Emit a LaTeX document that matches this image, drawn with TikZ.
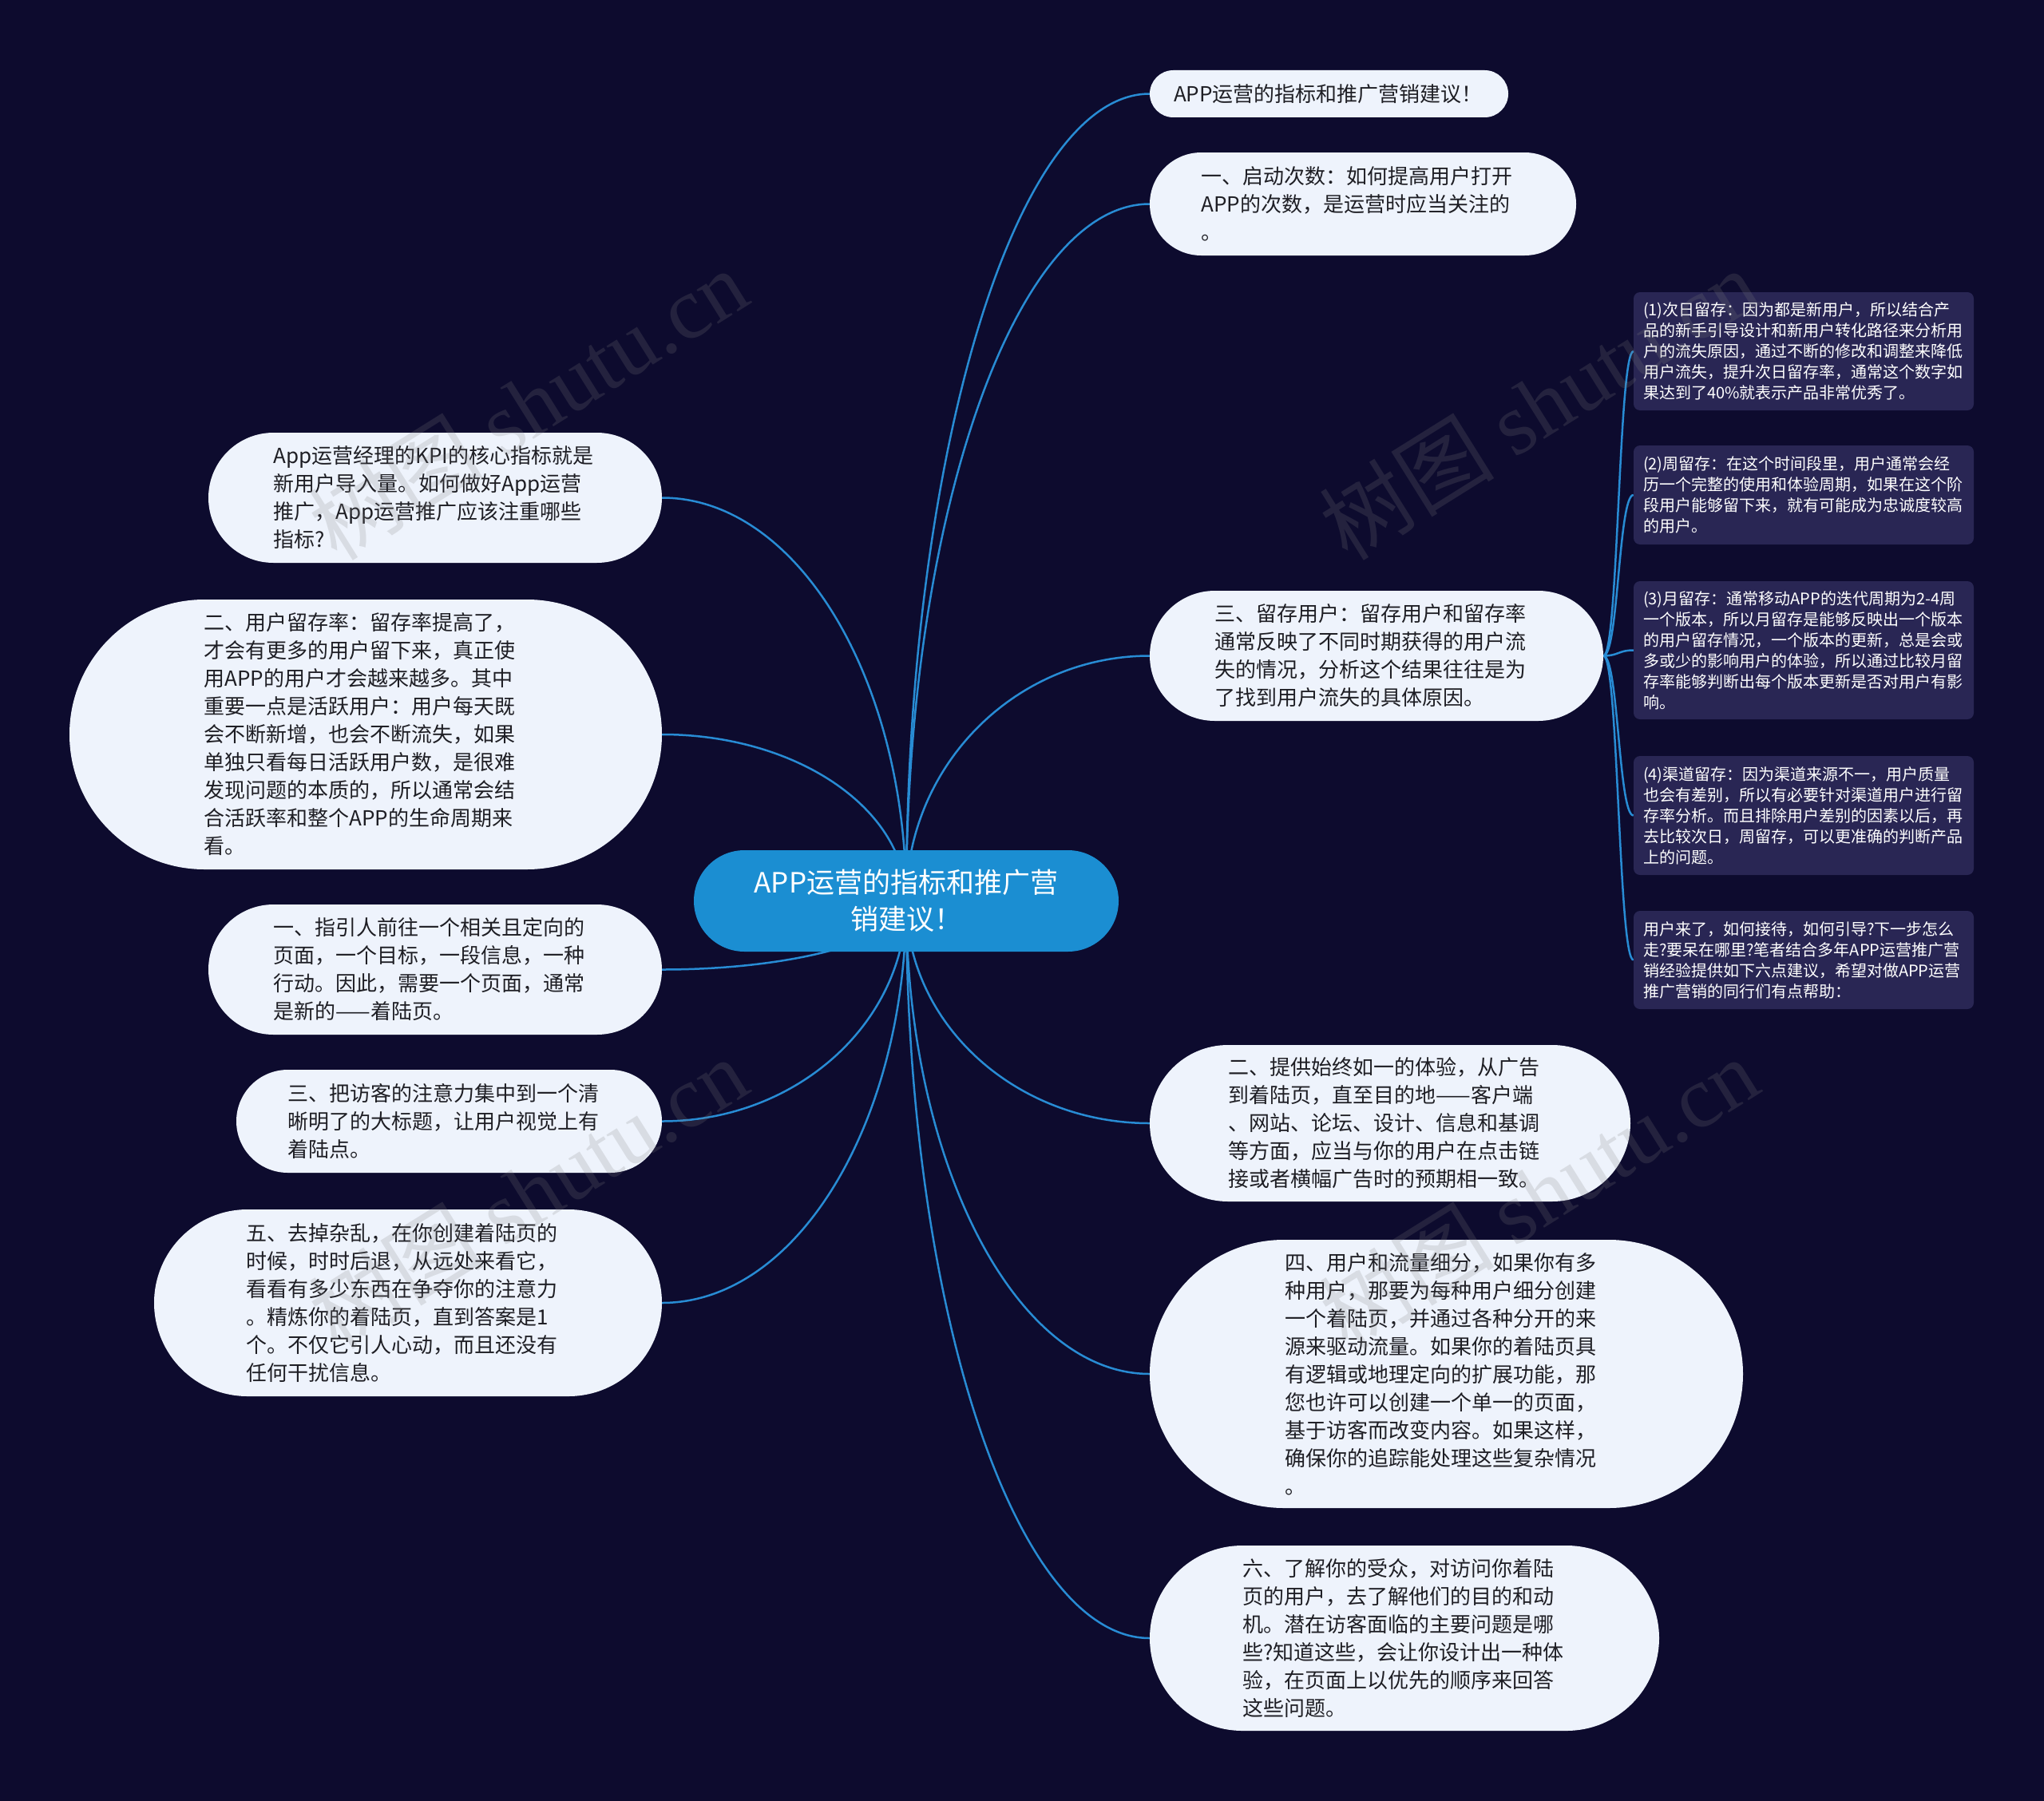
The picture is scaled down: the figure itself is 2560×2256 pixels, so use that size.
\documentclass[tikz,border=0pt]{standalone}
\usepackage{fontspec}
\setmainfont{Noto Sans CJK SC}
\newfontfamily\wmlatin{Liberation Serif}
\usetikzlibrary{calc}
\definecolor{bgc}{RGB}{13,11,46}
\definecolor{rootc}{RGB}{27,142,210}
\definecolor{nodec}{RGB}{238,243,252}
\definecolor{txtc}{RGB}{30,30,36}
\definecolor{subc}{RGB}{41,38,84}
\definecolor{linec}{RGB}{40,140,212}
\pgfdeclarelayer{bglayer}
\pgfdeclarelayer{edgelayer}
\pgfdeclarelayer{wmlayer}
\pgfsetlayers{bglayer,edgelayer,main,wmlayer}
\begin{document}
\begin{tikzpicture}[x=1pt,y=-1pt,
  mainnode/.style={fill=nodec,text=txtc,font=\fontsize{26}{35}\selectfont,text width=405pt,align=left,inner sep=0pt},
  subnode/.style={fill=subc,text=white,font=\fontsize{20}{26}\selectfont,text width=402pt,align=left,inner xsep=12pt,inner ysep=0pt,rounded corners=8pt,minimum width=426pt},
  rootnode/.style={fill=rootc,text=white,font=\fontsize{35}{46}\selectfont,align=center,inner sep=0pt},
  conn/.style={draw=linec,line width=2.5pt},
  subconn/.style={draw=linec,line width=2.5pt},
  wmark/.style={text=gray,text opacity=0.2,font=\fontsize{110}{110}\selectfont,rotate=32,inner sep=0pt}]
\useasboundingbox (0,0) rectangle (2560,2256);
\begin{pgfonlayer}{bglayer}
\fill[bgc] (0,0) rectangle (2560,2256);
\end{pgfonlayer}

% root
\node[rootnode,minimum width=532pt,minimum height=127pt,rounded corners=63.5pt] (c) at (1135,1128.5) {APP运营的指标和推广营\\销建议！};

% right side
\node[mainnode,text width=389pt,minimum width=449pt,minimum height=59pt,rounded corners=29.5pt] (r1) at (1664.5,117.5) {APP运营的指标和推广营销建议！};
\node[mainnode,minimum width=534pt,minimum height=129pt,rounded corners=64.5pt] (r2) at (1707,255.5) {一、启动次数：如何提高用户打开\\APP的次数，是运营时应当关注的\\。};
\node[mainnode,minimum width=568pt,minimum height=163pt,rounded corners=81.5pt] (r3) at (1724,821.5) {三、留存用户：留存用户和留存率\\通常反映了不同时期获得的用户流\\失的情况，分析这个结果往往是为\\了找到用户流失的具体原因。};
\node[mainnode,minimum width=602pt,minimum height=196pt,rounded corners=98pt] (r4) at (1741,1407) {二、提供始终如一的体验，从广告\\到着陆页，直至目的地——客户端\\、网站、论坛、设计、信息和基调\\等方面，应当与你的用户在点击链\\接或者横幅广告时的预期相一致。};
\node[mainnode,minimum width=743pt,minimum height=336pt,rounded corners=168pt] (r5) at (1811.5,1721) {四、用户和流量细分，如果你有多\\种用户，那要为每种用户细分创建\\一个着陆页，并通过各种分开的来\\源来驱动流量。如果你的着陆页具\\有逻辑或地理定向的扩展功能，那\\您也许可以创建一个单一的页面，\\基于访客而改变内容。如果这样，\\确保你的追踪能处理这些复杂情况\\。};
\node[mainnode,minimum width=638pt,minimum height=232pt,rounded corners=116pt] (r6) at (1759,2052) {六、了解你的受众，对访问你着陆\\页的用户，去了解他们的目的和动\\机。潜在访客面临的主要问题是哪\\些?知道这些，会让你设计出一种体\\验，在页面上以优先的顺序来回答\\这些问题。};

% left side
\node[mainnode,minimum width=568pt,minimum height=163pt,rounded corners=81.5pt] (l1) at (545,623.5) {App运营经理的KPI的核心指标就是\\新用户导入量。如何做好App运营\\推广，App运营推广应该注重哪些\\指标?};
\node[mainnode,minimum width=742pt,minimum height=338pt,rounded corners=169pt] (l2) at (458,920) {二、用户留存率：留存率提高了，\\才会有更多的用户留下来，真正使\\用APP的用户才会越来越多。其中\\重要一点是活跃用户：用户每天既\\会不断新增，也会不断流失，如果\\单独只看每日活跃用户数，是很难\\发现问题的本质的，所以通常会结\\合活跃率和整个APP的生命周期来\\看。};
\node[mainnode,minimum width=568pt,minimum height=163pt,rounded corners=81.5pt] (l3) at (545,1214.5) {一、指引人前往一个相关且定向的\\页面，一个目标，一段信息，一种\\行动。因此，需要一个页面，通常\\是新的——着陆页。};
\node[mainnode,minimum width=533pt,minimum height=129pt,rounded corners=64.5pt] (l4) at (562.5,1404.5) {三、把访客的注意力集中到一个清\\晰明了的大标题，让用户视觉上有\\着陆点。};
\node[mainnode,minimum width=636pt,minimum height=234pt,rounded corners=117pt] (l5) at (511,1632) {五、去掉杂乱，在你创建着陆页的\\时候，时时后退，从远处来看它，\\看看有多少东西在争夺你的注意力\\。精炼你的着陆页，直到答案是1\\个。不仅它引人心动，而且还没有\\任何干扰信息。};

% sub boxes
\node[subnode,minimum height=148pt] (s1) at (2259,440) {(1)次日留存：因为都是新用户，所以结合产\\品的新手引导设计和新用户转化路径来分析用\\户的流失原因，通过不断的修改和调整来降低\\用户流失，提升次日留存率，通常这个数字如\\果达到了40\%就表示产品非常优秀了。};
\node[subnode,minimum height=124pt] (s2) at (2259,620) {(2)周留存：在这个时间段里，用户通常会经\\历一个完整的使用和体验周期，如果在这个阶\\段用户能够留下来，就有可能成为忠诚度较高\\的用户。};
\node[subnode,minimum height=173pt] (s3) at (2259,814.5) {(3)月留存：通常移动APP的迭代周期为2-4周\\一个版本，所以月留存是能够反映出一个版本\\的用户留存情况，一个版本的更新，总是会或\\多或少的影响用户的体验，所以通过比较月留\\存率能够判断出每个版本更新是否对用户有影\\响。};
\node[subnode,minimum height=149pt] (s4) at (2259,1021.5) {(4)渠道留存：因为渠道来源不一，用户质量\\也会有差别，所以有必要针对渠道用户进行留\\存率分析。而且排除用户差别的因素以后，再\\去比较次日，周留存，可以更准确的判断产品\\上的问题。};
\node[subnode,minimum height=123pt] (s5) at (2259,1202.5) {用户来了，如何接待，如何引导?下一步怎么\\走?要呆在哪里?笔者结合多年APP运营推广营\\销经验提供如下六点建议，希望对做APP运营\\推广营销的同行们有点帮助：};

\begin{pgfonlayer}{edgelayer}
\foreach \t in {r1,r2,r3,r4,r5,r6}
  \draw[conn] let \p1=(c.center), \p2=(\t.west) in
    (c.center) .. controls (\x1,{\y1+0.552*(\y2-\y1)}) and ({\x2-0.552*(\x2-\x1)},\y2) .. (\t.west);
\foreach \t in {l1,l2,l3,l4,l5}
  \draw[conn] let \p1=(c.center), \p2=(\t.east) in
    (c.center) .. controls (\x1,{\y1+0.552*(\y2-\y1)}) and ({\x2-0.552*(\x2-\x1)},\y2) .. (\t.east);
\foreach \t in {s1,s2,s3,s4,s5}
  \draw[subconn] let \p1=(r3.east), \p2=(\t.west) in
    (r3.east) .. controls ({\x1/2+\x2/2},\y1) and ({\x1/2+\x2/2},\y2) .. (\t.west);
\end{pgfonlayer}

\begin{pgfonlayer}{wmlayer}
\node[wmark] (w1) at (661,506) {树图 {\wmlatin shutu.cn}};
\node[wmark] (w2) at (1927,506) {树图 {\wmlatin shutu.cn}};
\node[wmark] (w3) at (661,1494) {树图 {\wmlatin shutu.cn}};
\node[wmark] (w4) at (1927,1494) {树图 {\wmlatin shutu.cn}};
\end{pgfonlayer}
\end{tikzpicture}
\end{document}
